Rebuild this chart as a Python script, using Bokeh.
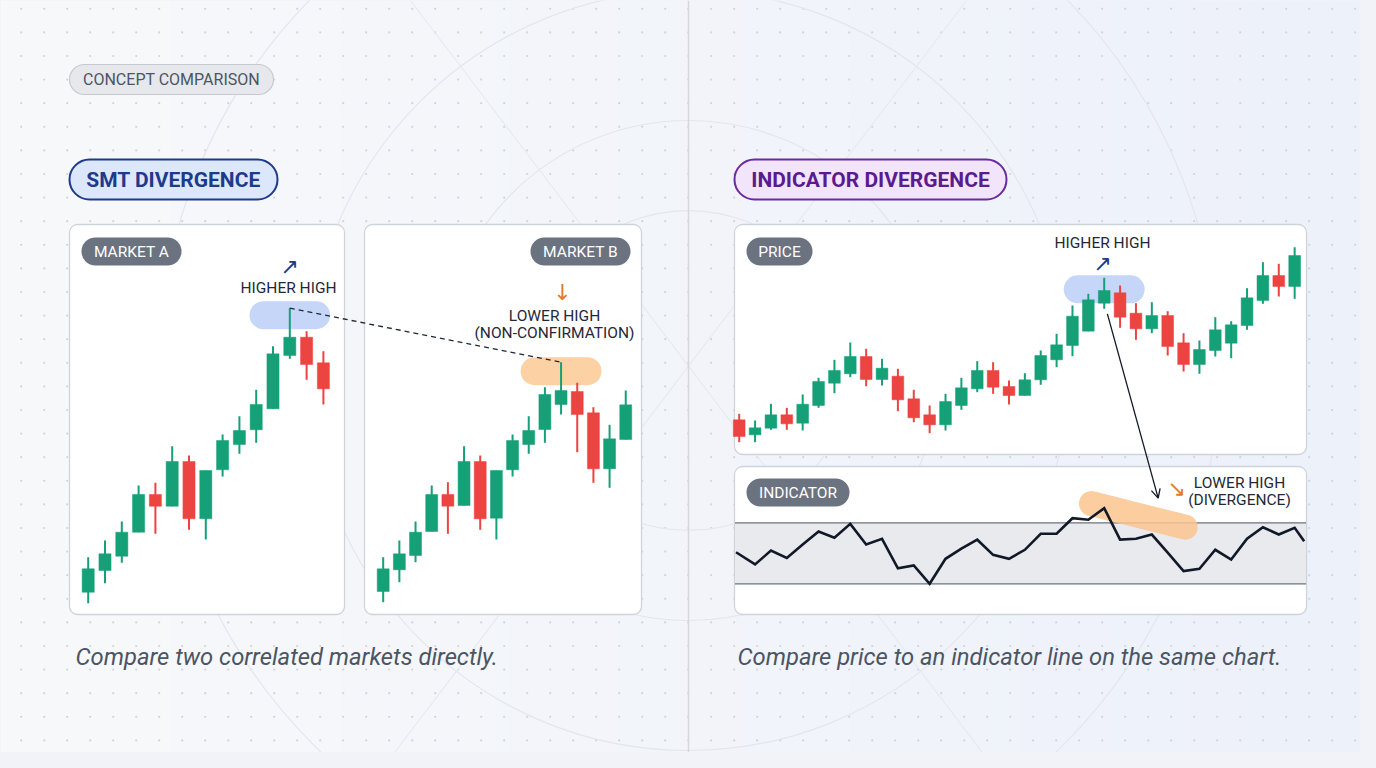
import numpy as np
from bokeh.plotting import figure
from bokeh.models import Range1d, Arrow, OpenHead, ColumnDataSource
from bokeh.core.properties import value
from bokeh.embed import file_html
from bokeh.resources import INLINE

# ---------------- data ----------------
# Market A (SMT left panel)
mkt_a_idx = list(range(15))
mkt_a_open = [48.3, 70, 84.3, 108.3, 146, 134.3, 179, 121.7, 170.7, 196, 210.7, 231.7, 285, 303.3, 277.7]
mkt_a_high = [83.3, 100, 119, 155, 157.7, 194.3, 185, 170, 206, 224.3, 250.7, 294.3, 332.3, 309.3, 289.3]
mkt_a_low = [37.3, 57.3, 77.7, 108.3, 106.7, 134.3, 110.7, 101, 164, 186.7, 197.7, 231.7, 281.7, 260.7, 236]
mkt_a_close = [71.7, 86.7, 108.3, 146, 134.3, 179, 121.7, 170, 200, 210, 236, 286.7, 303.3, 276, 251.7]

# Market B (SMT right panel)
mkt_b_idx = list(range(16))
mkt_b_open = [49, 70.7, 85, 109, 146, 135, 179, 122.3, 170.7, 196, 211, 236, 249, 227.7, 171.7, 201]
mkt_b_high = [83.3, 100, 119, 155, 158.3, 194.3, 185, 170, 206, 224.3, 253.3, 278.3, 257.7, 233.3, 215.7, 250]
mkt_b_low = [38.3, 58.3, 78.3, 109, 106.7, 135, 110.7, 101, 164, 186.7, 197.7, 226, 188.3, 157.7, 152.7, 201]
mkt_b_close = [71.7, 86.7, 108.3, 146, 134.3, 179, 121.7, 170, 200, 210, 246, 250, 226, 171.7, 201.7, 235.7]

# Price panel (indicator divergence)
price_idx = list(range(36))
price_open = [40.7, 25.7, 32.3, 45.7, 37.3, 55, 77.3, 86.7, 104, 81, 84.3, 61.7, 45.7, 35.7, 55, 71.7, 90, 74,
              65, 80.7, 100.7, 115, 129.3, 157.3, 167.7, 147.3, 131.7, 145, 117.7, 96, 110, 117.3, 135, 160, 185, 174]
price_high = [46.7, 40, 56.7, 52.7, 66, 82.7, 100.7, 118, 111.7, 101.7, 91.7, 70.7, 55, 66.7, 82.7, 99.3, 98.3, 80,
              87.3, 110, 126.7, 155, 166.7, 182.7, 175, 157.3, 158.3, 149.3, 127.3, 120, 143.3, 139.3, 172.3, 198.3, 196.7, 213.3]
price_low = [18.3, 18.3, 30.7, 30.7, 30, 52.7, 67.3, 83.3, 74.3, 75, 49.3, 38.3, 27.3, 30, 50.7, 68.3, 66.7, 56,
             65, 75.7, 93.3, 104.3, 129.3, 151.7, 132.7, 120.7, 127.3, 105, 89, 86.7, 104, 102.3, 130.7, 156.7, 164, 161.7]
price_close = [24, 32.7, 45.7, 36.7, 56.3, 79, 90, 104, 81, 92.3, 60.7, 42.7, 35.7, 59, 72.7, 90, 73.3, 65,
               80.7, 105, 115.7, 144.3, 160.7, 170, 143.3, 131.7, 145, 114, 96, 111, 130.7, 135.7, 162.7, 185, 174, 205]
divergence_peak_idx = 23  # the "higher high" candle

# Indicator line
indicator_x = [-0.2] + list(range(1, 36)) + [35.6]
indicator_val = [50.7, 42.7, 51.8, 47.0, 55.8, 64.3, 60.2, 69.3, 55.8, 59.5, 40.2, 42.0, 30.0, 46.4, 53.0, 58.9,
                 49.0, 46.4, 52.3, 62.8, 62.8, 73.0, 72.0, 79.6, 59.0, 59.5, 62.3, 50.5, 38.3, 39.8, 52.3, 45.9,
                 59.5, 67.1, 62.3, 66.7, 57.9]
indicator_levels = [30, 70]

# Texts
tag_text = "CONCEPT COMPARISON"
title_left = "SMT DIVERGENCE"
title_right = "INDICATOR DIVERGENCE"
badge_texts = ["MARKET A", "MARKET B", "PRICE", "INDICATOR"]
caption_left = "Compare two correlated markets directly."
caption_right = "Compare price to an indicator line on the same chart."

GREEN = "#15a078"
RED = "#ec4441"
FONT = value("Roboto")

# ---------------- figure (pixel-like main space) ----------------
FL, FR, FT, FB = 0, 1360, 0, 752
p = figure(width=1360, height=752, x_range=Range1d(FL, FR), y_range=Range1d(FB, FT),
           output_backend="svg", toolbar_location=None,
           x_axis_location=None, y_axis_location=None, min_border=0,
           outline_line_color=None, background_fill_color="#f4f6fa", border_fill_color="#f4f6fa")
p.grid.visible = False


def xr(px0, step):
    return Range1d((FL - px0) / step, (FR - px0) / step)


def yr(px0, step):
    return Range1d((FB - px0) / step, (FT - px0) / step)


# panel scales: index/value -> pixel
AX = (87.7, 16.8)
BX = (382.7, 16.17)
MY = (640.0, -1.0)
PX = (738.7, 15.87)
PY = (460.0, -1.0)
IY_STEP = (522.3 - 583.3) / (indicator_levels[1] - indicator_levels[0])
IY = (583.3 - indicator_levels[0] * IY_STEP, IY_STEP)

p.extra_x_ranges = {"ax": xr(*AX), "bx": xr(*BX), "px": xr(*PX)}
p.extra_y_ranges = {"my": yr(*MY), "py": yr(*PY), "iy": yr(*IY)}


def tpx(m, v):
    return m[0] + m[1] * v


def inv(m, px):
    return (px - m[0]) / m[1]


# ---------------- background ----------------
h, w = 8, 240
img = np.empty((h, w), dtype=np.uint32)
view = img.view(dtype=np.uint8).reshape((h, w, 4))
t = np.linspace(0, 1, w)
view[:, :, 0] = (248 - 11 * t).astype(np.uint8)
view[:, :, 1] = (249 - 8 * t).astype(np.uint8)
view[:, :, 2] = (251 - 1 * t).astype(np.uint8)
view[:, :, 3] = 255
p.image_rgba(image=[img], x=FL, y=FT, dw=FR - FL, dh=FB - FT)

gx = np.arange(20.7, FR, 23.0)
gy = np.arange(8.3, FB, 23.6)
GX, GY = np.meshgrid(gx, gy)
p.scatter(GX.ravel(), GY.ravel(), size=2.2, color="#cfd4dc", line_color=None)

p.circle(x=[688] * 4, y=[370] * 4, radius=[160, 250, 380, 530], fill_color=None,
         line_color="#e3e6ec", line_width=1.2)
p.segment(x0=[410, 966], y0=[0, 0], x1=[988, 388], y1=[760, 760], line_color="#e6e9ee", line_width=1.1)
p.segment(x0=[688], y0=[0], x1=[688], y1=[768], line_color="#d3d7de", line_width=1.5)


# ---------------- pills / panels ----------------
def box(l, r, t_, b, fill, line, lw, rad):
    p.quad(left=[l], right=[r], top=[t_], bottom=[b], fill_color=fill, line_color=line,
           line_width=lw, border_radius=rad)


box(69, 273, 64, 94, "#e6e8ec", "#c5c9d0", 1.2, 15)
box(69, 277, 159, 199, "#dce7fb", "#1e3a8a", 2, 20)
box(734, 1006, 159, 199, "#f1e4fb", "#6b2a9e", 2, 20)

for (l, r, t_, b) in [(69, 344, 224, 614), (364, 641, 224, 614), (734, 1306, 224, 454), (734, 1306, 466, 614)]:
    box(l, r, t_, b, "#ffffff", "#cfd4db", 1.3, 8)

for (l, r, t_, b) in [(81, 181, 237, 265), (530, 630, 237, 265), (746, 812, 237, 265), (746, 849, 478, 506)]:
    box(l, r, t_, b, "#6b7280", None, 0, 14)

# indicator band
band_l, band_r = inv(PX, 734.5), inv(PX, 1305.5)
p.quad(left=[band_l], right=[band_r], top=[indicator_levels[1]], bottom=[indicator_levels[0]],
       fill_color="#e9eaee", line_color=None, x_range_name="px", y_range_name="iy")
p.segment(x0=[band_l] * 2, x1=[band_r] * 2, y0=indicator_levels, y1=indicator_levels,
          line_color="#6b7280", line_width=1.2, x_range_name="px", y_range_name="iy")

# ---------------- highlights ----------------
ia = int(np.argmax(mkt_a_high))
ib = int(np.argmax(mkt_b_high))
ip = divergence_peak_idx
ii = int(np.argmax(indicator_val))

p.quad(left=[ia - 2.4], right=[ia + 2.4], top=[mkt_a_high[ia] + 7], bottom=[mkt_a_high[ia] - 21],
       fill_color="#c6d6f8", line_color=None, border_radius=14, x_range_name="ax", y_range_name="my")
p.quad(left=[ib - 2.5], right=[ib + 2.5], top=[mkt_b_high[ib] + 5], bottom=[mkt_b_high[ib] - 23],
       fill_color="#fcd1a3", line_color=None, border_radius=14, x_range_name="bx", y_range_name="my")
p.quad(left=[ip - 2.55], right=[ip + 2.55], top=[price_high[ip] + 2.5], bottom=[price_high[ip] - 25.5],
       fill_color="#c6d6f8", line_color=None, border_radius=14, x_range_name="px", y_range_name="py")
p.line(x=[indicator_x[ii] - 0.8, indicator_x[ii] + 5.1], y=[indicator_val[ii] + 3, indicator_val[ii] - 12.5],
       line_color="#fbc48e", line_alpha=0.85, line_width=25, line_cap="round",
       x_range_name="px", y_range_name="iy")


# ---------------- candles ----------------
def candles(idx, o, hi, lo, c, xname, yname, width):
    col = [GREEN if ci >= oi else RED for oi, ci in zip(o, c)]
    src = ColumnDataSource(dict(x=idx, top=[max(a, b) for a, b in zip(o, c)],
                                bottom=[min(a, b) for a, b in zip(o, c)], high=hi, low=lo, color=col))
    p.segment(x0="x", y0="high", x1="x", y1="low", line_color="color", line_width=2, source=src,
              x_range_name=xname, y_range_name=yname)
    p.vbar(x="x", width=width, top="top", bottom="bottom", fill_color="color", line_color="color",
           line_width=0.5, source=src, x_range_name=xname, y_range_name=yname)


candles(mkt_a_idx, mkt_a_open, mkt_a_high, mkt_a_low, mkt_a_close, "ax", "my", 0.72)
candles(mkt_b_idx, mkt_b_open, mkt_b_high, mkt_b_low, mkt_b_close, "bx", "my", 0.74)
candles(price_idx, price_open, price_high, price_low, price_close, "px", "py", 0.74)

p.line(x=indicator_x, y=indicator_val, line_color="#111827", line_width=2.6, line_join="miter",
       x_range_name="px", y_range_name="iy")

# ---------------- connectors ----------------
p.segment(x0=[tpx(AX, ia)], y0=[tpx(MY, mkt_a_high[ia])], x1=[tpx(BX, ib)], y1=[tpx(MY, mkt_b_high[ib])],
          line_color="#1f2937", line_width=1.3, line_dash="5 4")

arrow = Arrow(end=OpenHead(size=9, line_width=1.3, line_color="#111827"),
              x_start=tpx(PX, ip + 0.2), y_start=tpx(PY, price_low[ip]) + 5,
              x_end=tpx(PX, ip + 3.4), y_end=tpx(IY, indicator_val[ii]) - 10,
              line_color="#111827", line_width=1.3)
p.add_layout(arrow)

# ---------------- texts ----------------
p.text(x=[171], y=[79], text=[tag_text], text_font=FONT, text_font_size=value("16px"),
       text_color="#4b5563", text_align="center", text_baseline="middle")
p.text(x=[173], y=[179], text=[title_left], text_font=FONT, text_font_size=value("21px"),
       text_font_style="bold", text_color="#1e3a8a", text_align="center", text_baseline="middle")
p.text(x=[870], y=[179], text=[title_right], text_font=FONT, text_font_size=value("21px"),
       text_font_style="bold", text_color="#5b1a8f", text_align="center", text_baseline="middle")
p.text(x=[131, 580, 779, 797.5], y=[251, 251, 251, 492], text=badge_texts, text_font=FONT,
       text_font_size=value("15.5px"), text_color="#ffffff", text_align="center", text_baseline="middle")

p.text(x=[288, 554, 554, 1102, 1239, 1239], y=[287, 315, 332, 242, 482, 499],
       text=["HIGHER HIGH", "LOWER HIGH", "(NON-CONFIRMATION)", "HIGHER HIGH", "LOWER HIGH", "(DIVERGENCE)"],
       text_font=FONT, text_font_size=value("15.5px"), text_color="#1f2937",
       text_align="center", text_baseline="middle")
p.text(x=[289, 1102], y=[266, 263], text=["\u2197", "\u2197"], text_font=value("DejaVu Sans"),
       text_font_size=value("22px"), text_color="#1e3a8a", text_align="center", text_baseline="middle")
p.text(x=[562, 1176], y=[292, 488], text=["\u2193", "\u2198"], text_font=value("DejaVu Sans"),
       text_font_size=value("22px"), text_color="#e07a2c", text_align="center", text_baseline="middle")

p.text(x=[75, 737], y=[656, 656], text=[caption_left, caption_right], text_font=FONT,
       text_font_size=value("23.8px"), text_font_style="italic", text_color="#4b5563",
       text_align="left", text_baseline="middle")

html = file_html(p, INLINE)
html = html.replace("</head>", "<style>html,body{background:#f1f3f9;}</style></head>", 1)
open("out.html", "w").write(html)
